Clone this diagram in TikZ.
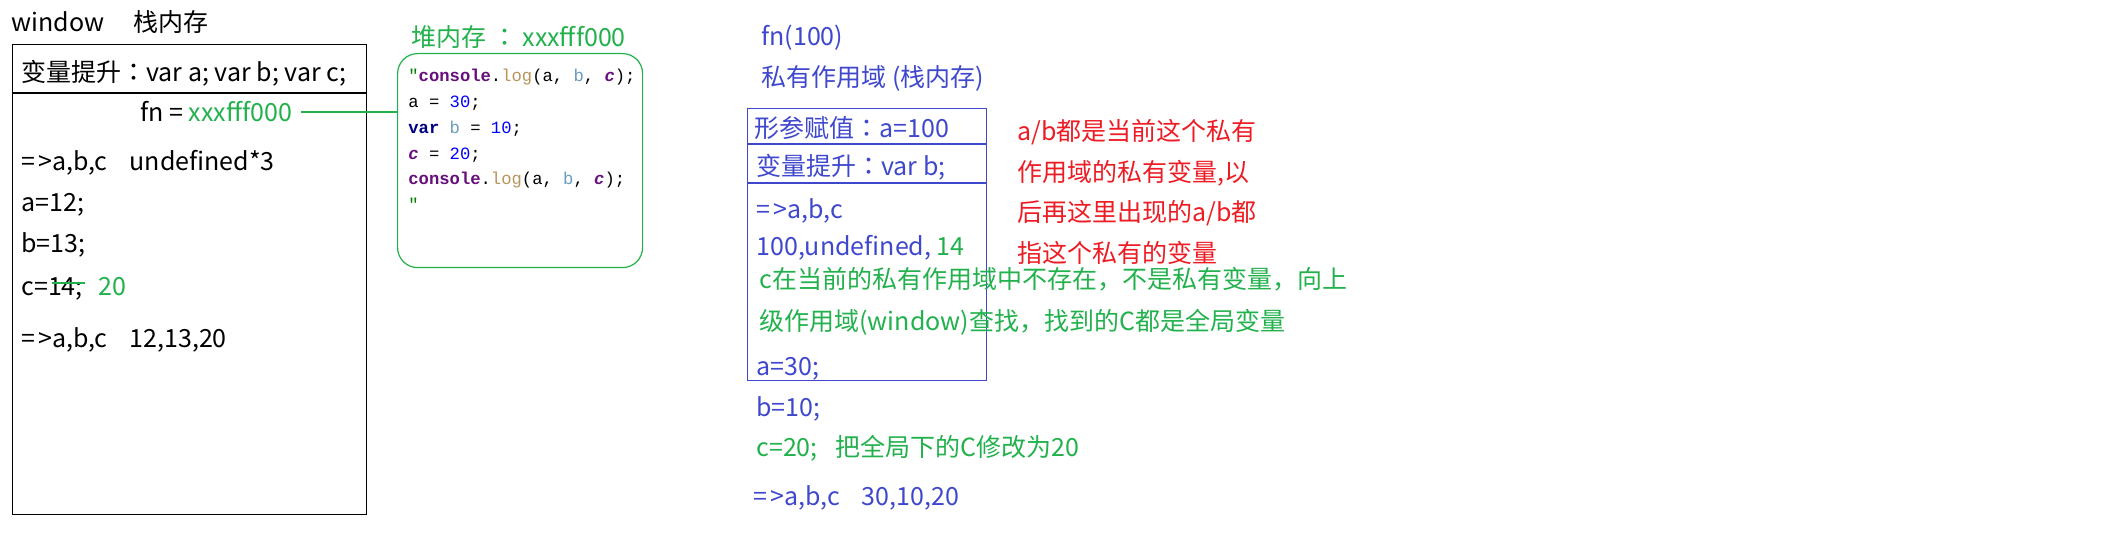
\documentclass[tikz,border=0pt]{standalone}
\usepackage{fontspec}
\setmainfont{Noto Sans CJK SC}
\newfontfamily\codefam{Liberation Mono}
\newfontfamily\jpfam{Noto Sans CJK JP}
\definecolor{ink}{HTML}{000000}
\definecolor{scopeblue}{HTML}{3F48CC}
\definecolor{heapgreen}{HTML}{22B14C}
\definecolor{notered}{HTML}{ED1C24}
\definecolor{kwnavy}{HTML}{000080}
\definecolor{globvar}{HTML}{660E7A}
\definecolor{fnname}{HTML}{B8955A}
\definecolor{locvar}{HTML}{6A9BC0}
\definecolor{numblue}{HTML}{0000FF}
\definecolor{strgreen}{HTML}{008000}
\newcommand{\mainfs}{\fontsize{12.5}{15}\selectfont}
\newcommand{\codefs}{\codefam\fontsize{8.6}{10}\selectfont}
\newcommand{\fwcolon}{{\jpfam ：}}
\newcommand{\arrow}{=\kern1.5pt>}
\newcommand{\jsglob}[1]{\textcolor{globvar}{\bfseries\itshape #1}}
\newcommand{\jslog}{\textcolor{globvar}{\bfseries console}.\textcolor{fnname}{log}}
\newcommand{\jslocal}[1]{\textcolor{locvar}{#1}}
\newcommand{\jsnum}[1]{\textcolor{numblue}{#1}}
\begin{document}
\begin{tikzpicture}[x=0.5pt,y=-0.5pt,
  txt/.style={anchor=base west,inner sep=0,font=\mainfs},
  codeln/.style={anchor=base west,inner sep=0,font=\codefs},
  boxline/.style={draw,line width=0.6pt,inner sep=0,anchor=north west}]
\useasboundingbox (0,0) rectangle (2104,560);
\node[txt] (win) at (11,32) {window};
\node[txt] (winstack) at (133,32) {栈内存};
\node[boxline,draw=ink,minimum width=177pt,minimum height=235pt] (winbox) at (12,44) {};
\draw[ink,line width=0.6pt] (winbox.west |- 0,93) -- (winbox.east |- 0,93);
\node[txt] (hoist) at (21,82) {变量提升\fwcolon var a; var b; var c;};
\node[txt] (fnaddr) at (140,122) {fn = \textcolor{heapgreen}{xxxfff000}};
\node[txt] (out1) at (21,171) {\arrow a,b,c\hspace{11pt}undefined*3};
\node[txt] (seta) at (21,212) {a=12;};
\node[txt] (setb) at (21,253) {b=13;};
\node[txt] (setc) at (21,296) {c=14;};
\draw[heapgreen,line width=0.6pt] (52,283) -- (85,283);
\node[txt,text=heapgreen] (newc) at (98,296) {20};
\node[txt] (out2) at (21,348) {\arrow a,b,c\hspace{11pt}12,13,20};
\node[txt,text=heapgreen] (heaptitle) at (411,47) {堆内存 \fwcolon\ xxxfff000};
\node[boxline,draw=heapgreen,rounded corners=10pt,minimum width=122.5pt,minimum height=107pt] (heap) at (397,53) {};
\draw[heapgreen,line width=0.6pt,shorten <=4.5pt] (fnaddr.east) -- (fnaddr.east -| heap.west);
\node[codeln] (code1) at (408,82) {\textcolor{strgreen}{"}\jslog(a, \jslocal{b}, \jsglob{c});};
\node[codeln] (code2) at (408,108) {a = \jsnum{30};};
\node[codeln] (code3) at (408,134) {\textcolor{kwnavy}{\bfseries var} \jslocal{b} = \jsnum{10};};
\node[codeln] (code4) at (408,160) {\jsglob{c} = \jsnum{20};};
\node[codeln] (code5) at (408,185) {\jslog(a, \jslocal{b}, \jsglob{c});};
\node[codeln] (code6) at (408,211) {\textcolor{strgreen}{"}};
\node[txt,text=scopeblue] (call) at (761,46) {fn(100)};
\node[txt,text=scopeblue] (scopetitle) at (761,87) {私有作用域 (栈内存)};
\node[boxline,draw=scopeblue,minimum width=119.5pt,minimum height=136pt] (scope) at (747,108) {};
\draw[scopeblue,line width=0.6pt] (scope.west |- 0,144) -- (scope.east |- 0,144);
\draw[scopeblue,line width=0.6pt] (scope.west |- 0,183) -- (scope.east |- 0,183);
\node[txt,text=scopeblue] (param) at (754,138) {形参赋值\fwcolon a=100};
\node[txt,text=scopeblue] (hoistb) at (756,176) {变量提升\fwcolon var b;};
\node[txt,text=scopeblue] (out3) at (756,219) {\arrow a,b,c};
\node[txt,text=scopeblue] (vals) at (756,256) {100,undefined, \textcolor{heapgreen}{14}};
\node[txt,text=heapgreen] (lookup1) at (759,289) {c在当前的私有作用域中不存在，不是私有变量，向上};
\node[txt,text=heapgreen] (lookup2) at (759,331) {级作用域(window)查找，找到的C都是全局变量};
\node[txt,text=scopeblue] (seta2) at (756,376) {a=30;};
\node[txt,text=scopeblue] (setb2) at (756,417) {b=10;};
\node[txt,text=heapgreen] (setc2) at (756,457) {c=20;\hspace{9pt}把全局下的C修改为20};
\node[txt,text=scopeblue] (out4) at (753,506) {\arrow a,b,c\hspace{11pt}30,10,20};
\node[txt,text=notered] (note1) at (1017,141) {a/b都是当前这个私有};
\node[txt,text=notered] (note2) at (1017,182) {作用域的私有变量,以};
\node[txt,text=notered] (note3) at (1017,222) {后再这里出现的a/b都};
\node[txt,text=notered] (note4) at (1017,263) {指这个私有的变量};
\end{tikzpicture}
\end{document}
